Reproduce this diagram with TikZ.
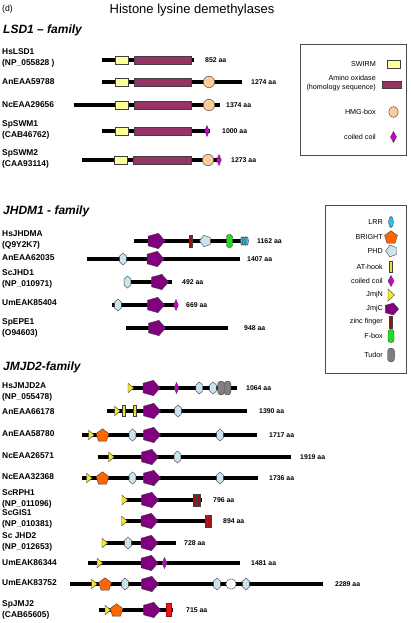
\documentclass[tikz,border=0pt]{standalone}
\usepackage{fontspec}
\setmainfont{Liberation Sans}
\definecolor{swirmc}{HTML}{FFFF99}
\definecolor{aoc}{HTML}{993366}
\definecolor{hmgc}{HTML}{FFCC99}
\definecolor{ccc}{HTML}{CC00CC}
\definecolor{jmjcc}{HTML}{800080}
\definecolor{phdc}{HTML}{C8E4EC}
\definecolor{jmjnc}{HTML}{F2E830}
\definecolor{brightc}{HTML}{FF6600}
\definecolor{athookc}{HTML}{E8E040}
\definecolor{zfc}{HTML}{A01010}
\definecolor{fboxc}{HTML}{22DD22}
\definecolor{lrrc}{HTML}{33BBEE}
\definecolor{tudorc}{HTML}{808080}
\definecolor{redc}{HTML}{FF1010}
\tikzset{
  dom/.style={draw=black!75, line width=0.4pt},
  protbar/.style={line width=4.3pt},
  lab/.style={anchor=west, align=left, inner sep=0pt, font=\fontsize{8.4}{10.5}\selectfont\bfseries},
  aatext/.style={anchor=west, inner sep=0pt, font=\fontsize{6.9}{8}\selectfont\bfseries},
  famtext/.style={anchor=west, inner sep=0pt, font=\fontsize{12}{14}\selectfont\bfseries\itshape},
  legtext/.style={anchor=east, align=right, inner sep=0pt, font=\fontsize{7.2}{8.4}\selectfont},
  legbox/.style={draw=black!70, line width=0.7pt},
  pics/swirm/.style={code={\draw[dom,fill=swirmc] (-6.5,-4) rectangle (6.5,4);}},
  pics/hmg/.style={code={\draw[dom,fill=hmgc] (0,0) circle[radius=5.7pt];}},
  pics/whitec/.style={code={\draw[dom,fill=white] (0,0) circle[radius=5.2pt];}},
  pics/cc/.style={code={\draw[dom,fill=ccc] (0,-5.5) -- (2.3,0) -- (0,5.5) -- (-2.3,0) -- cycle;}},
  pics/ccbig/.style={code={\draw[dom,fill=ccc] (0,-5.5) -- (3,0) -- (0,5.5) -- (-3,0) -- cycle;}},
  pics/jmjc/.style={code={\draw[dom,fill=jmjcc] (8.5,0) -- (1.9,-7.7) -- (-8.4,-4.8) -- (-8.4,4.8) -- (1.9,7.7) -- cycle;}},
  pics/jmjcleg/.style={code={\draw[dom,fill=jmjcc] (6.6,0) -- (1.5,-6) -- (-6.6,-3.7) -- (-6.6,3.7) -- (1.5,6) -- cycle;}},
  pics/bright/.style={code={\draw[dom,fill=brightc] (0,-6.2) -- (6.4,-1.5) -- (4,6.1) -- (-4,6.1) -- (-6.4,-1.5) -- cycle;}},
  pics/phd/.style={code={\draw[dom,fill=phdc] (0,-6) -- (3.4,-3) -- (3.4,3) -- (0,6) -- (-3.4,3) -- (-3.4,-3) -- cycle;}},
  pics/phdbig/.style={code={\draw[dom,fill=phdc] (-5.4,0) -- (-1.25,-5.7) -- (5.45,-3.5) -- (5.45,3.5) -- (-1.25,5.7) -- cycle;}},
  pics/jmjn/.style={code={\draw[dom,fill=jmjnc] (-2.5,-4.8) -- (3.2,0) -- (-2.5,4.8) -- cycle;}},
  pics/jmjnleg/.style={code={\draw[dom,fill=jmjnc] (-3,-6) -- (3.5,0) -- (-3,6) -- cycle;}},
  pics/athook/.style={code={\draw[dom,fill=athookc] (-1.5,-5.5) rectangle (1.5,5.5);}},
  pics/zf/.style={code={\draw[dom,fill=zfc] (-1.5,-6) rectangle (1.5,6);}},
  pics/zfbox/.style={code={\draw[dom,fill=zfc] (-3,-6) rectangle (3,6); \draw[black!70,line width=0.4pt] (-1,-6) -- (-1,6) (1,-6) -- (1,6);}},
  pics/fbox/.style={code={\draw[dom,fill=fboxc,rounded corners=2.5pt] (-3,-6.5) rectangle (3,6.5);}},
  pics/tudor/.style={code={\draw[dom,fill=tudorc,rounded corners=2.8pt] (-3.3,-6.8) rectangle (3.3,6.8);}},
  pics/lrr/.style={code={\draw[dom,fill=lrrc] (0,0) ellipse[x radius=2.4pt,y radius=5.5pt];}},
  pics/lrrs/.style={code={\foreach \o in {-2.6,-0.9,0.8,2.5}{\draw[dom,fill=lrrc] (\o,0) ellipse[x radius=1.4pt,y radius=4.3pt];}}},
  pics/redbox/.style={code={\draw[draw=zfc,line width=0.5pt,fill=redc] (-2.5,-6.3) rectangle (2.5,6.3);}},
}
\begin{document}
\begin{tikzpicture}[x=1pt,y=-1pt]
\useasboundingbox (0,0) rectangle (411,623);
% titles
\node[anchor=west,inner sep=0pt,font=\fontsize{8.7}{10}\selectfont] (dlab) at (2,9) {(d)};
\node[inner sep=0pt,font=\fontsize{13}{15}\selectfont] (title) at (192,10) {Histone lysine demethylases};
\node[famtext] (fam1) at (3,30) {LSD1 -- family};
\node[famtext] (fam2) at (3,211) {JHDM1 - family};
\node[famtext] (fam3) at (3,367) {JMJD2-family};

% ---------------- LSD1 family
\node[lab] (l1) at (2,58) {HsLSD1\\(NP\_055828 )};
\draw[protbar] (102,60) -- (194,60);
\pic at (121.5,60) {swirm};
\draw[dom,fill=aoc] (134,56) rectangle (191,64);
\node[aatext] (a1) at (205,60) {852 aa};

\node[lab] (l2) at (2,82) {AnEAA59788};
\draw[protbar] (102,82) -- (242,82);
\pic at (121.5,82) {swirm};
\draw[dom,fill=aoc] (134,78) rectangle (191,86);
\pic at (209,82) {hmg};
\node[aatext] (a2) at (251,82) {1274 aa};

\node[lab] (l3) at (2,105) {NcEAA29656};
\draw[protbar] (74,105) -- (220,105);
\pic at (121.5,105) {swirm};
\draw[dom,fill=aoc] (134,101) rectangle (191,109);
\pic at (209,105) {hmg};
\node[aatext] (a3) at (226,105) {1374 aa};

\node[lab] (l4) at (2,130) {SpSWM1\\(CAB46762)};
\draw[protbar] (102,131) -- (210,131);
\pic at (121.5,131) {swirm};
\draw[dom,fill=aoc] (134,127) rectangle (191,135);
\pic at (207,131) {cc};
\node[aatext] (a4) at (222,131) {1000 aa};

\node[lab] (l5) at (2,159) {SpSWM2\\(CAA93114)};
\draw[protbar] (82,160) -- (220,160);
\pic at (121,160) {swirm};
\draw[dom,fill=aoc] (133,156) rectangle (191,164);
\pic at (208,160) {hmg};
\pic at (219,160) {cc};
\node[aatext] (a5) at (231,160) {1273 aa};

% LSD1 legend
\draw[legbox] (300,44) rectangle (406,155);
\node[legtext] (g1) at (376,64) {SWIRM};
\pic at (394,64) {swirm};
\node[legtext] (g2) at (376,83) {Amino oxidase\\(homology sequence)};
\draw[dom,fill=aoc] (382,81.5) rectangle (401,88.5);
\node[legtext] (g3) at (376,112) {HMG-box};
\draw[dom,fill=hmgc] (393.5,112) ellipse[x radius=4.8pt,y radius=5.5pt];
\node[legtext] (g4) at (376,137) {coiled coil};
\pic at (393.5,137) {ccbig};

% ---------------- JHDM1 family
\node[lab] (m1) at (2,240) {HsJHDMA\\(Q9Y2K7)};
\draw[protbar] (134,241) -- (245,241);
\pic at (156.5,241) {jmjc};
\pic at (191,241) {zf};
\pic at (205,241) {phdbig};
\pic at (229.5,241) {fbox};
\pic at (244.5,241) {lrrs};
\node[aatext] (b1) at (257,241) {1162 aa};

\node[lab] (m2) at (2,258) {AnEAA62035};
\draw[protbar] (87,259) -- (240,259);
\pic at (123,259) {phd};
\pic at (155.5,259) {jmjc};
\node[aatext] (b2) at (247,259) {1407 aa};

\node[lab] (m3) at (2,279) {ScJHD1\\(NP\_010971)};
\draw[protbar] (128,282) -- (172,282);
\pic at (127.5,282) {phd};
\pic at (160,282) {jmjc};
\node[aatext] (b3) at (182,282) {492 aa};

\node[lab] (m4) at (2,303) {UmEAK85404};
\draw[protbar] (112,305) -- (178,305);
\pic at (118,305) {phd};
\pic at (156,305) {jmjc};
\pic at (176,305) {cc};
\node[aatext] (b4) at (186,305) {669 aa};

\node[lab] (m5) at (2,328) {SpEPE1\\(O94603)};
\draw[protbar] (126,328) -- (228,328);
\pic at (157,328) {jmjc};
\node[aatext] (b5) at (244,328) {948 aa};

% JHDM1 legend
\draw[legbox] (325,205) rectangle (406,373);
\node[legtext] (h1) at (383,222) {LRR};
\pic at (391,222) {lrr};
\node[legtext] (h2) at (383,237) {BRIGHT};
\pic at (391,237) {bright};
\node[legtext] (h3) at (383,251) {PHD};
\pic at (391,251) {phdbig};
\node[legtext] (h4) at (383,267) {AT-hook};
\pic at (391,267) {athook};
\node[legtext] (h5) at (383,281) {coiled coil};
\pic at (391,281) {ccbig};
\node[legtext] (h6) at (383,295) {JmjN};
\pic at (391,295) {jmjnleg};
\node[legtext] (h7) at (383,309) {JmjC};
\pic at (392,309) {jmjcleg};
\node[legtext] (h8) at (383,322) {zinc finger};
\pic at (391,322) {zf};
\node[legtext] (h9) at (383,336) {F-box};
\pic at (391,336) {fbox};
\node[legtext] (h10) at (383,355) {Tudor};
\pic at (391,355) {tudor};

% ---------------- JMJD2 family
\node[lab] (n1) at (2,392) {HsJMJD2A\\(NP\_055478)};
\draw[protbar] (128,388) -- (237,388);
\pic at (130.5,388) {jmjn};
\pic at (151.5,388) {jmjc};
\pic at (176.5,388) {cc};
\pic at (199.3,388) {phd};
\pic at (213,388) {phd};
\pic at (221,388) {tudor};
\pic at (227.5,388) {tudor};
\node[aatext] (c1) at (246,388) {1064 aa};

\node[lab] (n2) at (2,412) {AnEAA66178};
\draw[protbar] (107,411) -- (247,411);
\pic at (117,411) {jmjn};
\pic at (124,411) {athook};
\pic at (135,411) {athook};
\pic at (152,411) {jmjc};
\pic at (178,411) {phd};
\node[aatext] (c2) at (259,411) {1390 aa};

\node[lab] (n3) at (2,434) {AnEAA58780};
\draw[protbar] (82,435) -- (257,435);
\pic at (91,435) {jmjn};
\pic at (102.5,435) {bright};
\pic at (132.5,435) {phd};
\pic at (152,435) {jmjc};
\pic at (220,435) {phd};
\node[aatext] (c3) at (269,435) {1717 aa};

\node[lab] (n4) at (2,456) {NcEAA26571};
\draw[protbar] (98,457) -- (291,457);
\pic at (111,457) {jmjn};
\pic at (150,457) {jmjc};
\pic at (177.5,457) {phd};
\node[aatext] (c4) at (300,457) {1919 aa};

\node[lab] (n5) at (2,477) {NcEAA32368};
\draw[protbar] (82,478) -- (258,478);
\pic at (89,478) {jmjn};
\pic at (102.5,478) {bright};
\pic at (132.5,478) {phd};
\pic at (152,478) {jmjc};
\pic at (220,478) {phd};
\node[aatext] (c5) at (269,478) {1736 aa};

\node[lab] (n6) at (2,499) {ScRPH1\\(NP\_011096)};
\draw[protbar] (123,500) -- (202,500);
\pic at (124.5,500) {jmjn};
\pic at (150,500) {jmjc};
\pic at (195,500) {zf};
\pic at (198.5,500) {zf};
\node[aatext] (c6) at (213,500) {796 aa};

\node[lab] (n7) at (2,519) {ScGIS1\\(NP\_010381)};
\draw[protbar] (123,521) -- (210,521);
\pic at (124,521) {jmjn};
\pic at (149.5,521) {jmjc};
\pic at (208,521) {zfbox};
\node[aatext] (c7) at (223,521) {894 aa};

\node[lab] (n8) at (2,542) {Sc JHD2\\(NP\_012653)};
\draw[protbar] (103,543) -- (176,543);
\pic at (104.5,543) {jmjn};
\pic at (128,543) {phd};
\pic at (149.5,543) {jmjc};
\node[aatext] (c8) at (184,543) {728 aa};

\node[lab] (n9) at (2,563) {UmEAK86344};
\draw[protbar] (88,563) -- (240,563);
\pic at (99.5,563) {jmjn};
\pic at (149.5,563) {jmjc};
\pic at (164.5,563) {cc};
\node[aatext] (c9) at (251,563) {1481 aa};

\node[lab] (n10) at (2,583) {UmEAK83752};
\draw[protbar] (70,584) -- (323,584);
\pic at (94,584) {jmjn};
\pic at (105,584) {bright};
\pic at (125,584) {phd};
\pic at (150,584) {jmjc};
\pic at (217,584) {phd};
\pic at (231,584) {whitec};
\pic at (246,584) {phd};
\node[aatext] (c10) at (335,584) {2289 aa};

\node[lab] (n11) at (2,610) {SpJMJ2\\(CAB65605)};
\draw[protbar] (99,610) -- (173,610);
\pic at (107.5,610) {jmjn};
\pic at (116.5,610) {bright};
\pic at (152,610) {jmjc};
\pic at (169,610) {redbox};
\node[aatext] (c11) at (186,610) {715 aa};
\end{tikzpicture}
\end{document}
